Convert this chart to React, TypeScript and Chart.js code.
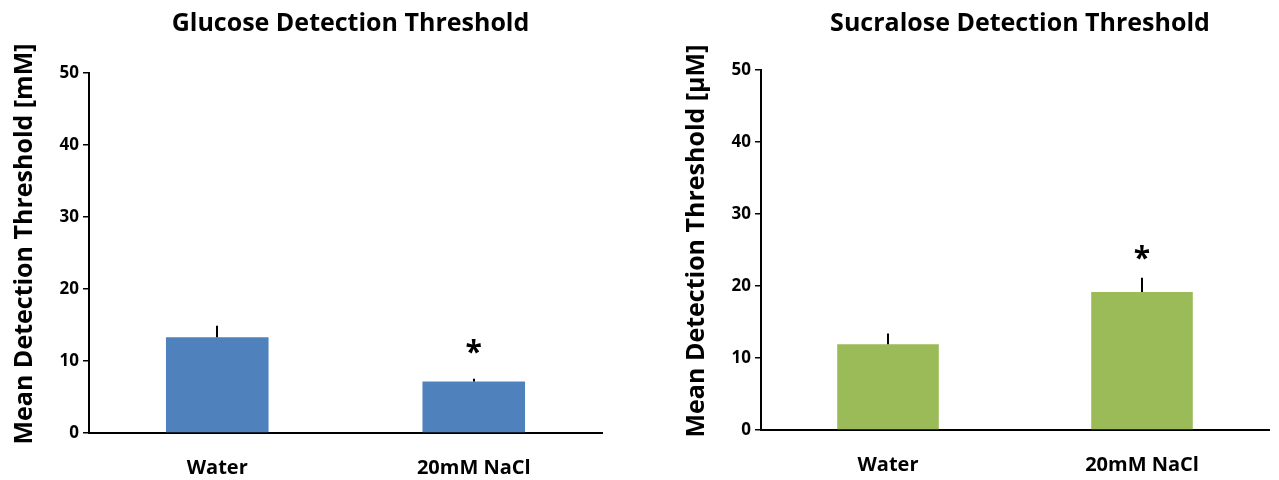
import React, { useEffect, useRef } from "react";
import { Chart, registerables } from "chart.js";

Chart.register(...registerables);

const categories = ["Water", "20mM NaCl"];
const yTickValues = [0, 10, 20, 30, 40, 50];

const glucoseTitle = "Glucose Detection Threshold";
const glucoseAxisTitle = "Mean Detection Threshold [mM]";
const glucoseMeans = [13.3, 7.15];
const glucoseErrors = [1.6, 0.4];
const glucoseStarY = [null, 12.0];

const sucraloseTitle = "Sucralose Detection Threshold";
const sucraloseAxisTitle = "Mean Detection Threshold [\u00b5M]";
const sucraloseMeans = [11.9, 19.15];
const sucraloseErrors = [1.5, 2.0];
const sucraloseStarY = [null, 24.6];

const FONT = '"Open Sans", "DejaVu Sans", sans-serif';

type PanelProps = {
  title: string;
  axisTitle: string;
  means: number[];
  errors: number[];
  stars: (number | null)[];
  color: string;
  width: number;
  left: number;
  yScaleWidth: number;
  padRight: number;
  padTop: number;
  xScaleHeight: number;
};

function Panel(p: PanelProps) {
  const ref = useRef<HTMLCanvasElement | null>(null);
  useEffect(() => {
    if (!ref.current) return;
    const annot = {
      id: "annot",
      afterDatasetsDraw(chart: any) {
        const ctx = chart.ctx as CanvasRenderingContext2D;
        const ys = chart.scales.y;
        const meta = chart.getDatasetMeta(0);
        const ca = chart.chartArea;
        ctx.save();
        ctx.strokeStyle = "#000";
        ctx.fillStyle = "#000";
        ctx.lineWidth = 2;
        meta.data.forEach((bar: any, i: number) => {
          const top = ys.getPixelForValue(p.means[i]);
          const end = ys.getPixelForValue(p.means[i] + p.errors[i]);
          ctx.beginPath();
          ctx.moveTo(Math.round(bar.x), top);
          ctx.lineTo(Math.round(bar.x), end);
          ctx.stroke();
          const s = p.stars[i];
          if (s !== null && s !== undefined) {
            ctx.font = `bold 30px ${FONT}`;
            ctx.textAlign = "center";
            ctx.textBaseline = "alphabetic";
            const m = ctx.measureText("*");
            const cy = ys.getPixelForValue(s);
            ctx.fillText("*", bar.x, cy + (m.actualBoundingBoxAscent - m.actualBoundingBoxDescent) / 2);
          }
        });
        ctx.font = `bold 25px ${FONT}`;
        ctx.textAlign = "center";
        ctx.textBaseline = "alphabetic";
        ctx.fillText(p.title, (ca.left + ca.right) / 2 + 5, 31);
        ctx.translate(ca.left - 64, (ca.top + ca.bottom) / 2 - 9);
        ctx.rotate(-Math.PI / 2);
        ctx.font = `bold 25px ${FONT}`;
        ctx.textBaseline = "middle";
        ctx.fillText(p.axisTitle, 0, 0);
        ctx.restore();
      },
    };
    const chart = new Chart(ref.current, {
      type: "bar",
      data: {
        labels: categories,
        datasets: [
          {
            data: p.means,
            backgroundColor: p.color,
            borderWidth: 0,
            barPercentage: 0.4,
            categoryPercentage: 1,
          },
        ],
      },
      options: {
        responsive: false,
        animation: false,
        layout: { padding: { left: 0, right: p.padRight, top: p.padTop, bottom: 0 } },
        plugins: { legend: { display: false }, tooltip: { enabled: false }, title: { display: false } },
        scales: {
          x: {
            grid: { display: false, drawTicks: false },
            border: { display: true, color: "#000", width: 2 },
            ticks: { color: "#000", padding: 23, font: { family: FONT, size: 20, weight: "bold" } },
            afterFit(scale: any) {
              scale.height = p.xScaleHeight;
            },
          },
          y: {
            min: 0,
            max: 50,
            afterBuildTicks(scale: any) {
              scale.ticks = yTickValues.map((v) => ({ value: v }));
            },
            grid: { display: true, drawOnChartArea: false, drawTicks: true, tickLength: 6, color: "#000", lineWidth: 1.5 },
            border: { display: true, color: "#000", width: 2 },
            ticks: { color: "#000", padding: 4, font: { family: FONT, size: 17, weight: "bold" } },
            afterFit(scale: any) {
              scale.width = p.yScaleWidth;
            },
          },
        },
      },
      plugins: [annot],
    } as any);
    return () => chart.destroy();
  }, []);
  return (
    <canvas
      ref={ref}
      width={p.width}
      height={480}
      style={{ position: "absolute", left: p.left, top: 0, width: p.width, height: 480 }}
    />
  );
}

export default function App() {
  return (
    <div style={{ position: "absolute", left: 0, top: 0, width: 1279, height: 480, background: "#fff" }}>
      <Panel
        title={glucoseTitle}
        axisTitle={glucoseAxisTitle}
        means={glucoseMeans}
        errors={glucoseErrors}
        stars={glucoseStarY}
        color="#4F81BD"
        width={640}
        left={0}
        yScaleWidth={89}
        padRight={38}
        padTop={73}
        xScaleHeight={47}
      />
      <Panel
        title={sucraloseTitle}
        axisTitle={sucraloseAxisTitle}
        means={sucraloseMeans}
        errors={sucraloseErrors}
        stars={sucraloseStarY}
        color="#9BBB59"
        width={639}
        left={640}
        yScaleWidth={121}
        padRight={10}
        padTop={70}
        xScaleHeight={50}
      />
    </div>
  );
}
